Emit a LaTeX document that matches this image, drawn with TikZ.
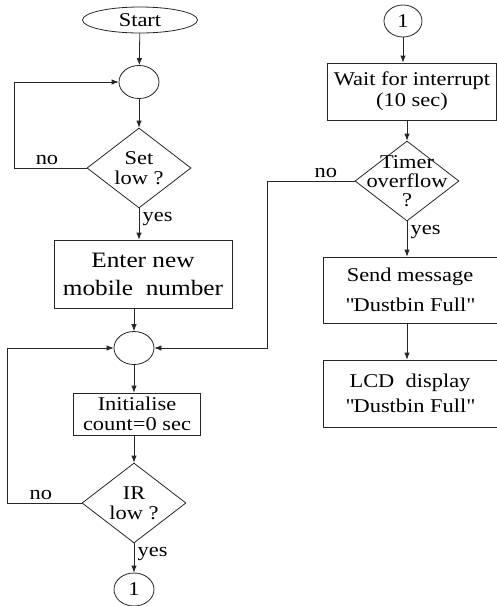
\documentclass[tikz,border=0pt]{standalone}
\usepackage{fontspec}
\setmainfont{Liberation Serif}[FakeStretch=1.15]
\usetikzlibrary{shapes.geometric, positioning, arrows.meta}

\begin{document}
\begin{tikzpicture}[line width=0.8pt, draw=black!85, on grid,
    font=\fontsize{19.5}{20}\selectfont,
    flow/.style={-{Latex[length=7pt,width=5.5pt]}},
    terminal/.style={draw, ellipse, minimum width=115pt, minimum height=26pt, inner sep=0pt},
    joint/.style={draw, ellipse, minimum width=40pt, minimum height=33pt, inner sep=0pt},
    block/.style={draw, rectangle, align=center, inner sep=0pt},
    decision/.style={draw, diamond, minimum width=104pt, minimum height=80pt, inner sep=0pt},
    dtext/.style={align=center, font=\fontsize{19.5}{20}\selectfont}]
    \useasboundingbox (0,0) rectangle (497pt,-606pt);

    % left column
    \node[terminal] (start) at (140pt,-20pt) {Start};
    \node[joint] (join1) [below=62pt of start, xshift=-1pt] {};
    \node[decision, label={[dtext]center:Set\\low ?}] (setlow) [below=86pt of join1] {};
    \node[block, minimum width=178pt, minimum height=68pt, font=\fontsize{22}{28}\selectfont]
        (enter) [below=106pt of setlow, xshift=4pt] {Enter new\\mobile~ number};
    \node[joint] (join2) [below=74pt of enter, xshift=-9pt] {};
    \node[block, minimum width=127pt, minimum height=42pt] (init) [below=66pt of join2, xshift=3pt] {Initialise\\count=0 sec};
    \node[decision, label={[dtext]center:IR\\low ?}] (irlow) [below=89pt of init, xshift=-3pt] {};
    \node[joint] (conn1a) [below=86.5pt of irlow] {1};

    % right column
    \node[joint, minimum width=38pt, minimum height=32pt] (conn1b) at (403pt,-21pt) {1};
    \node[block, minimum width=169pt, minimum height=57pt, font=\fontsize{19.5}{21}\selectfont]
        (wait) [below=70.5pt of conn1b, xshift=9pt] {Wait for interrupt\\(10 sec)};
    \node[decision, label={[dtext, font=\fontsize{19.5}{19}\selectfont]center:Timer\\overflow\\?}]
        (timer) [below=89.5pt of wait, xshift=-5pt] {};
    \node[block, minimum width=174pt, minimum height=66pt, font=\fontsize{19.5}{30}\selectfont]
        (send) [below=109pt of timer, xshift=3pt] {Send message\\\textquotedbl Dustbin Full\textquotedbl};
    \node[block, minimum width=174pt, minimum height=67pt, font=\fontsize{19.5}{25}\selectfont]
        (lcd) [below=103.5pt of send] {LCD~ display\\\textquotedbl Dustbin Full\textquotedbl};

    \path[flow]
    (start) edge (join1)
    (join1) edge (setlow)
    (setlow) edge node[right, pos=0.35] {yes} (setlow |- enter.north)
    (enter.south -| join2) edge (join2)
    (join2) edge (join2 |- init.north)
    (irlow |- init.south) edge (irlow)
    (irlow) edge node[right, pos=0.35] {yes} (conn1a)
    (conn1b) edge (conn1b |- wait.north)
    (timer |- wait.south) edge (timer)
    (timer) edge node[right, pos=0.3] {yes} (timer |- send.north)
    (timer |- send.south) edge (timer |- lcd.north);

    \draw[flow] (setlow.west) -- node[above, pos=0.55] {no} ++(-72pt,0) |- (join1.west);
    \draw[flow] (irlow.west) -- node[above, pos=0.55] {no} ++(-74pt,0) |- (join2.west);
    \draw[flow] (timer.west) -- node[above, pos=0.33] {no} ++(-87pt,0) |- (join2.east);
\end{tikzpicture}
\end{document}
